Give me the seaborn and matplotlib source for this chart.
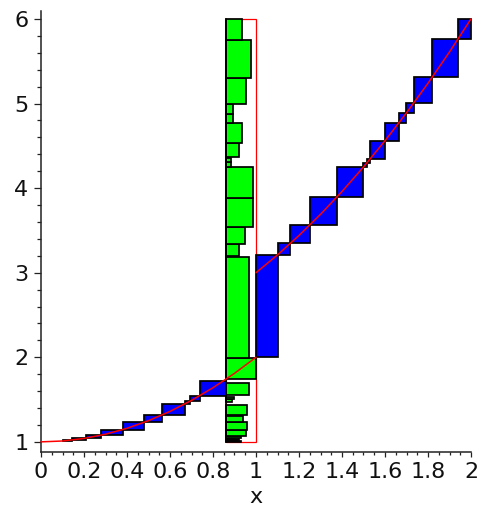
import numpy as np
import matplotlib
matplotlib.use("Agg")
import matplotlib.pyplot as plt
from matplotlib.patches import Rectangle
import seaborn as sns

# red curve (two branches, jump at x=1)
curve_left_x = [0.0, 0.1, 0.2, 0.3, 0.4, 0.5, 0.6, 0.7, 0.8, 0.9, 1.0]
curve_left_y = [1.0, 1.01, 1.04, 1.09, 1.16, 1.25, 1.36, 1.49, 1.64, 1.81, 2.0]
curve_right_x = [1.0, 1.1, 1.2, 1.3, 1.4, 1.5, 1.6, 1.7, 1.8, 1.9, 2.0]
curve_right_y = [3.0, 3.21, 3.44, 3.69, 3.96, 4.25, 4.56, 4.89, 5.24, 5.61, 6.0]

# blue boxes, left branch: corners along the curve
blue_left_x = [0.1, 0.145, 0.21, 0.28, 0.38, 0.48, 0.565, 0.67, 0.695, 0.74, 0.86]
blue_left_y = [1.01, 1.021, 1.044, 1.078, 1.144, 1.23, 1.32, 1.449, 1.483, 1.548, 1.72]

# blue boxes, right branch (first box spans the jump)
blue_jump = (1.0, 1.1, 2.0, 3.21)
blue_right_x = [1.1, 1.16, 1.25, 1.375, 1.5, 1.515, 1.53, 1.6, 1.665, 1.70, 1.735, 1.82, 1.94, 2.0]
blue_right_y = [3.21, 3.35, 3.56, 3.89, 4.25, 4.30, 4.34, 4.56, 4.77, 4.89, 5.01, 5.31, 5.76, 6.0]

# green boxes in the strip: bottom, top, right edge
strip_left = 0.86
green_y0 = [1.00, 1.006, 1.012, 1.021, 1.032, 1.044, 1.07, 1.14, 1.24, 1.32, 1.47, 1.505, 1.555,
            1.74, 1.99, 3.20, 3.34, 3.545, 3.88, 4.25, 4.31, 4.37, 4.53, 4.77, 4.88, 5.0, 5.30, 5.75]
green_y1 = [1.006, 1.012, 1.021, 1.032, 1.044, 1.07, 1.14, 1.24, 1.31, 1.437, 1.505, 1.535, 1.70,
            1.99, 3.19, 3.34, 3.545, 3.88, 4.25, 4.31, 4.36, 4.53, 4.77, 4.88, 5.0, 5.30, 5.75, 6.0]
green_x1 = [0.93, 0.90, 0.91, 0.92, 0.90, 0.93, 0.952, 0.96, 0.94, 0.96, 0.89, 0.90, 0.967,
            1.0, 0.969, 0.921, 0.949, 0.985, 0.985, 0.886, 0.884, 0.922, 0.933, 0.894, 0.894,
            0.952, 0.977, 0.933]

x_ticks = [0, 0.2, 0.4, 0.6, 0.8, 1, 1.2, 1.4, 1.6, 1.8, 2]
x_labels = ["0", "0.2", "0.4", "0.6", "0.8", "1", "1.2", "1.4", "1.6", "1.8", "2"]
y_ticks = [1, 2, 3, 4, 5, 6]

sns.set_style("ticks")
plt.rcParams['font.family'] = ['DejaVu Sans']

fig = plt.figure(figsize=(4.78, 5.12), dpi=100)
ax = fig.add_axes([41 / 478, 60 / 512, 430 / 478, 441.5 / 512])

edge = dict(edgecolor="black", linewidth=1.25, clip_on=False)

# red outline of the strip
ax.add_patch(Rectangle((strip_left, 1.0), 1.0 - strip_left, 5.0, facecolor="none",
                       edgecolor="red", linewidth=0.9, zorder=1))

for i in range(len(green_y0)):
    ax.add_patch(Rectangle((strip_left, green_y0[i]), green_x1[i] - strip_left,
                           green_y1[i] - green_y0[i], facecolor="#00ff00", zorder=2, **edge))
ax.plot([strip_left, strip_left], [1.0, 6.0], color="black", linewidth=1.25, zorder=3)

for i in range(len(blue_left_x) - 1):
    ax.add_patch(Rectangle((blue_left_x[i], blue_left_y[i]), blue_left_x[i + 1] - blue_left_x[i],
                           blue_left_y[i + 1] - blue_left_y[i], facecolor="#0000ff", zorder=2, **edge))

x0, x1, y0, y1 = blue_jump
ax.add_patch(Rectangle((x0, y0), x1 - x0, y1 - y0, facecolor="#0000ff", zorder=2, **edge))
for i in range(len(blue_right_x) - 1):
    ax.add_patch(Rectangle((blue_right_x[i], blue_right_y[i]), blue_right_x[i + 1] - blue_right_x[i],
                           blue_right_y[i + 1] - blue_right_y[i], facecolor="#0000ff", zorder=2, **edge))

sns.lineplot(x=curve_left_x, y=curve_left_y, color="red", linewidth=1.1, ax=ax, zorder=4,
             clip_on=False)
sns.lineplot(x=curve_right_x, y=curve_right_y, color="red", linewidth=1.1, ax=ax, zorder=4,
             clip_on=False)

ax.set_xlim(0, 2)
ax.set_ylim(0.88, 6.1)
sns.despine(ax=ax)
for s in ["left", "bottom"]:
    ax.spines[s].set_color("#222222")
    ax.spines[s].set_linewidth(1.1)

ax.set_xticks(x_ticks)
ax.set_xticklabels(x_labels)
ax.set_xticks(np.arange(0, 2.001, 0.05), minor=True)
ax.set_yticks(y_ticks)
ax.set_yticklabels([str(v) for v in y_ticks])
ax.set_yticks(np.arange(1, 6.001, 0.2), minor=True)

ax.tick_params(axis="x", which="major", direction="out", length=3.5, width=0.9,
               color="#222222", labelsize=16, pad=4, labelcolor="#111111")
ax.tick_params(axis="x", which="minor", direction="out", length=2, width=0.9, color="#222222")
ax.tick_params(axis="y", which="major", direction="out", length=5, width=0.9,
               color="#222222", labelsize=16, pad=4, labelcolor="#111111")
ax.tick_params(axis="y", which="minor", direction="out", length=3, width=0.9, color="#222222")

ax.set_xlabel("x", fontsize=16, color="#111111", labelpad=3)
ax.set_ylabel("")

fig.savefig("out.png", dpi=100)
